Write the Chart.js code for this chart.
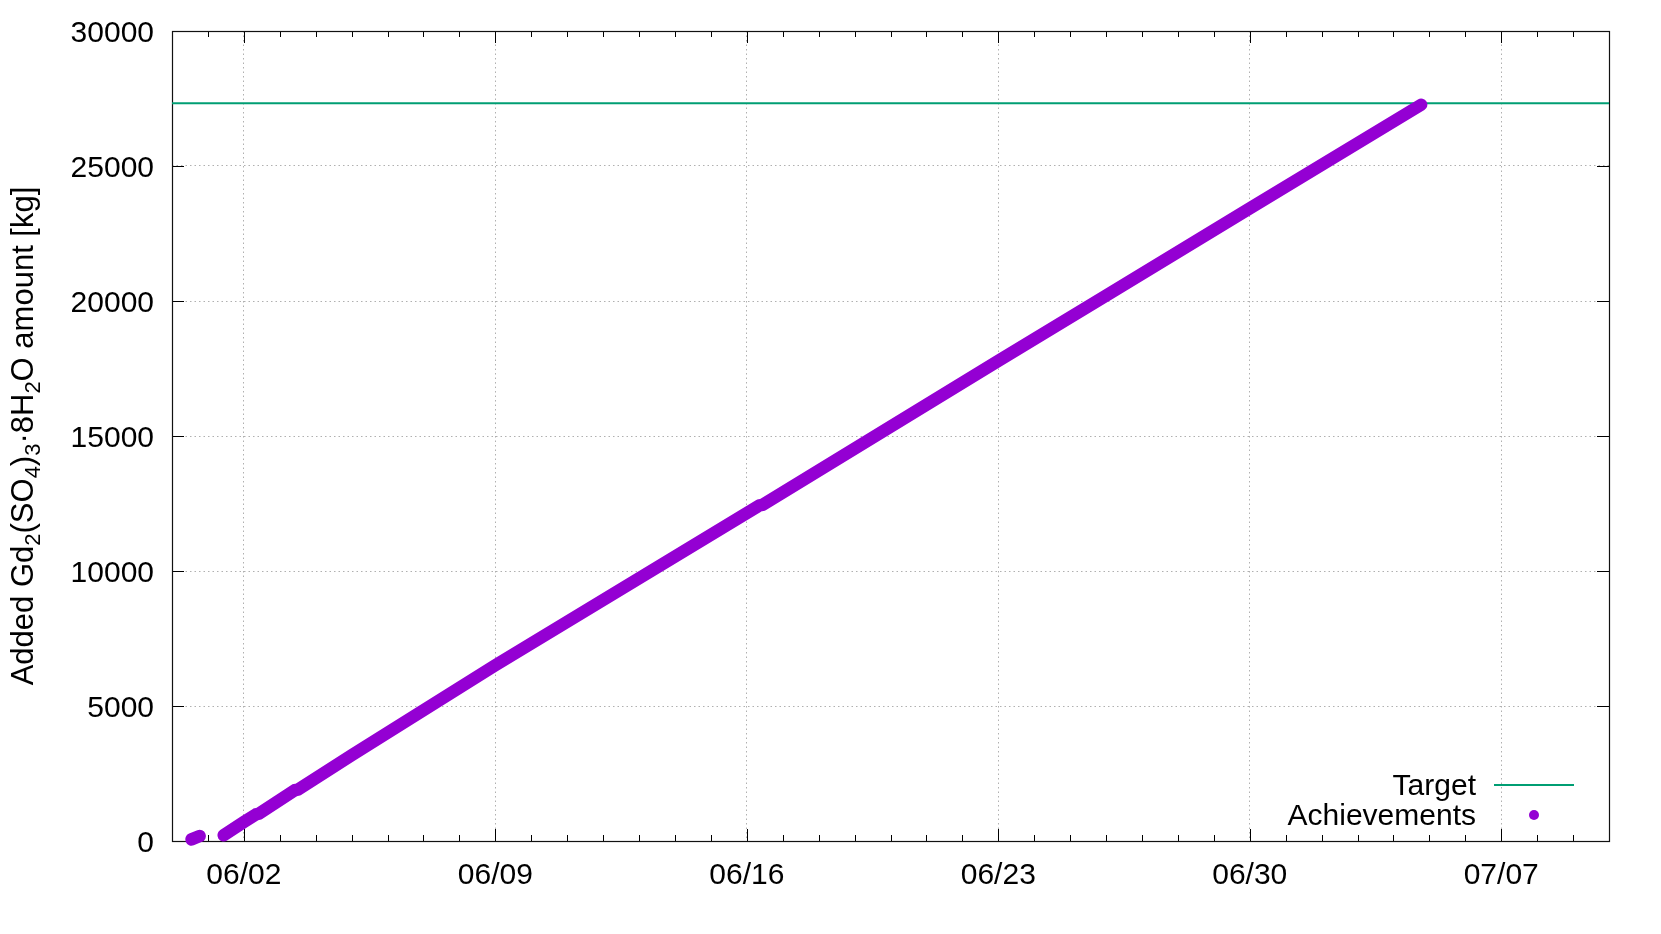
<!DOCTYPE html>
<html>
<head>
<meta charset="utf-8">
<script src="https://cdn.jsdelivr.net/npm/chart.js@4/dist/chart.umd.min.js"></script>
<style>
  html, body { margin: 0; padding: 0; background: #fff; }
  #wrap { width: 1661px; height: 934px; }
</style>
</head>
<body>
<div id="wrap"><canvas id="gdChart" width="1661" height="934"></canvas></div>
<script>
// 数据：日期 "MM/DD hh:mm"，数值单位 kg
const xTickLabels = ['06/02', '06/09', '06/16', '06/23', '06/30', '07/07'];
const yTickValues = [0, 5000, 10000, 15000, 20000, 25000, 30000];

const targetAmount = 27320;

// 第一段（05/31 试投入）
const achieveTimes1 = ['05/31 13:00', '05/31 18:30'];
const achieveValues1 = [60, 185];

// 第二段（06/01 起正式投入）
const achieveTimes2 = [
  '06/01 10:30', '06/02 00:00', '06/02 08:00', '06/02 10:00',
  '06/03 10:00', '06/03 12:00', '06/05 00:00', '06/09 00:00',
  '06/16 08:30', '06/16 10:30', '06/23 00:00', '06/26 00:00',
  '06/30 00:00', '07/04 18:30'
];
const achieveValues2 = [
  211, 704, 985, 1010,
  1880, 1900, 3180, 6512,
  12430, 12450, 17780, 20200,
  23430, 27268
];

const X_MIN = 0, X_MAX = 40; // 05/31 00:00 ~ 07/10 00:00
const FONT = '"Liberation Sans", Arial, Helvetica, sans-serif';
const PURPLE = '#9400d3';
const GREEN = '#009e73';

// 日期 -> 距 05/31 00:00 的天数
function toDay(s) {
  var parts = s.split(' ');
  var md = parts[0].split('/').map(Number);
  var hm = (parts[1] || '00:00').split(':').map(Number);
  var d = md[0] === 5 ? md[1] - 31 : (md[0] === 6 ? md[1] : 30 + md[1]);
  return d + hm[0] / 24 + hm[1] / 1440;
}

var majorDays = xTickLabels.map(function(l) { return toDay(l + ' 00:00'); });

var achieveData = [];
achieveTimes1.forEach(function(t, i) { achieveData.push({ x: toDay(t), y: achieveValues1[i] }); });
achieveData.push({ x: (toDay(achieveTimes1[1]) + toDay(achieveTimes2[0])) / 2, y: null });
achieveTimes2.forEach(function(t, i) { achieveData.push({ x: toDay(t), y: achieveValues2[i] }); });

// gnuplot 风格边框与内向刻度
var framePlugin = {
  id: 'gnuplotFrame',
  beforeDatasetsDraw: function(chart) {
    var ctx = chart.ctx, a = chart.chartArea;
    var xs = chart.scales.x, ys = chart.scales.y;
    ctx.save();
    ctx.strokeStyle = '#000';
    ctx.lineWidth = 1;
    ctx.beginPath();
    for (var d = X_MIN + 1; d < X_MAX; d++) {
      var px = Math.round(xs.getPixelForValue(d)) + 0.5;
      var len = majorDays.indexOf(d) >= 0 ? 12 : 6;
      ctx.moveTo(px, a.bottom); ctx.lineTo(px, a.bottom - len);
      ctx.moveTo(px, a.top); ctx.lineTo(px, a.top + len);
    }
    yTickValues.forEach(function(v) {
      var py = Math.round(ys.getPixelForValue(v)) + 0.5;
      ctx.moveTo(a.left, py); ctx.lineTo(a.left + 12, py);
      ctx.moveTo(a.right, py); ctx.lineTo(a.right - 12, py);
    });
    ctx.stroke();
    ctx.lineWidth = 1.2;
    ctx.strokeStyle = '#111';
    ctx.strokeRect(Math.round(a.left) + 0.5, Math.round(a.top) + 0.5,
      Math.round(a.right - a.left), Math.round(a.bottom - a.top));
    ctx.restore();
  }
};

// 图例（文字在左、样式在右）
var keyPlugin = {
  id: 'gnuplotKey',
  afterDraw: function(chart) {
    var ctx = chart.ctx, a = chart.chartArea;
    var textRight = a.right - 133;
    var y1 = a.bottom - 56, y2 = a.bottom - 26;
    ctx.save();
    ctx.font = '30px ' + FONT;
    ctx.fillStyle = '#000';
    ctx.textAlign = 'right';
    ctx.textBaseline = 'middle';
    ctx.fillText('Target', textRight, y1 + 2);
    ctx.fillText('Achievements', textRight, y2 + 2);
    ctx.strokeStyle = GREEN;
    ctx.lineWidth = 2;
    ctx.beginPath();
    ctx.moveTo(a.right - 115, y1); ctx.lineTo(a.right - 35, y1);
    ctx.stroke();
    ctx.fillStyle = PURPLE;
    ctx.beginPath();
    ctx.arc(a.right - 75, y2, 5, 0, Math.PI * 2);
    ctx.fill();
    ctx.restore();
  }
};

// Y 轴标题（带下标）
var yTitlePlugin = {
  id: 'yTitle',
  afterDraw: function(chart) {
    var ctx = chart.ctx, a = chart.chartArea;
    var pieces = [
      ['Added Gd', 0], ['2', 1], ['(SO', 0], ['4', 1], [')', 0], ['3', 1],
      ['\u00b78H', 0], ['2', 1], ['O amount [kg]', 0]
    ];
    var mainFont = '31px ' + FONT, subFont = '22px ' + FONT;
    ctx.save();
    var total = 0;
    pieces.forEach(function(p) {
      ctx.font = p[1] ? subFont : mainFont;
      total += ctx.measureText(p[0]).width;
    });
    ctx.translate(33, (a.top + a.bottom) / 2);
    ctx.rotate(-Math.PI / 2);
    ctx.fillStyle = '#000';
    ctx.textBaseline = 'alphabetic';
    ctx.textAlign = 'left';
    var x = -total / 2;
    pieces.forEach(function(p) {
      ctx.font = p[1] ? subFont : mainFont;
      ctx.fillText(p[0], x, p[1] ? 7 : 0);
      x += ctx.measureText(p[0]).width;
    });
    ctx.restore();
  }
};

var gridGray = 'rgba(150,150,150,0.75)';

new Chart(document.getElementById('gdChart').getContext('2d'), {
  type: 'line',
  data: {
    datasets: [
      {
        label: 'Target',
        data: [{ x: X_MIN, y: targetAmount }, { x: X_MAX, y: targetAmount }],
        borderColor: GREEN,
        borderWidth: 2,
        pointRadius: 0,
        fill: false,
        order: 2
      },
      {
        label: 'Achievements',
        data: achieveData,
        borderColor: PURPLE,
        backgroundColor: PURPLE,
        borderWidth: 12.5,
        borderCapStyle: 'round',
        borderJoinStyle: 'round',
        pointRadius: 0,
        tension: 0,
        spanGaps: false,
        fill: false,
        clip: false,
        order: 1
      }
    ]
  },
  options: {
    responsive: false,
    animation: false,
    devicePixelRatio: 1,
    layout: { padding: { top: 31, right: 52, left: 0, bottom: 0 } },
    plugins: {
      legend: { display: false },
      tooltip: { enabled: false }
    },
    scales: {
      x: {
        type: 'linear',
        min: X_MIN,
        max: X_MAX,
        afterFit: function(scale) {
          scale.height = 93;
          scale.paddingLeft = 0;
          scale.paddingRight = 0;
        },
        ticks: {
          stepSize: 1,
          autoSkip: false,
          maxRotation: 0,
          padding: 17,
          color: '#000',
          font: { family: FONT, size: 30 },
          callback: function(val) {
            var i = majorDays.indexOf(val);
            return i >= 0 ? xTickLabels[i] : '';
          }
        },
        grid: {
          drawTicks: false,
          lineWidth: 1,
          color: function(c) {
            return c.tick && majorDays.indexOf(c.tick.value) >= 0 ? gridGray : 'rgba(0,0,0,0)';
          }
        },
        border: { display: false, dash: [1.5, 3] }
      },
      y: {
        min: 0,
        max: 30000,
        afterFit: function(scale) {
          scale.width = 172;
          scale.paddingTop = 0;
          scale.paddingBottom = 0;
        },
        ticks: {
          stepSize: 5000,
          padding: 18,
          labelOffset: 3,
          color: '#000',
          font: { family: FONT, size: 30 },
          callback: function(val) { return String(val); }
        },
        grid: {
          drawTicks: false,
          lineWidth: 1,
          color: gridGray
        },
        border: { display: false, dash: [1.5, 3] }
      }
    }
  },
  plugins: [framePlugin, keyPlugin, yTitlePlugin]
});
</script>
</body>
</html>
